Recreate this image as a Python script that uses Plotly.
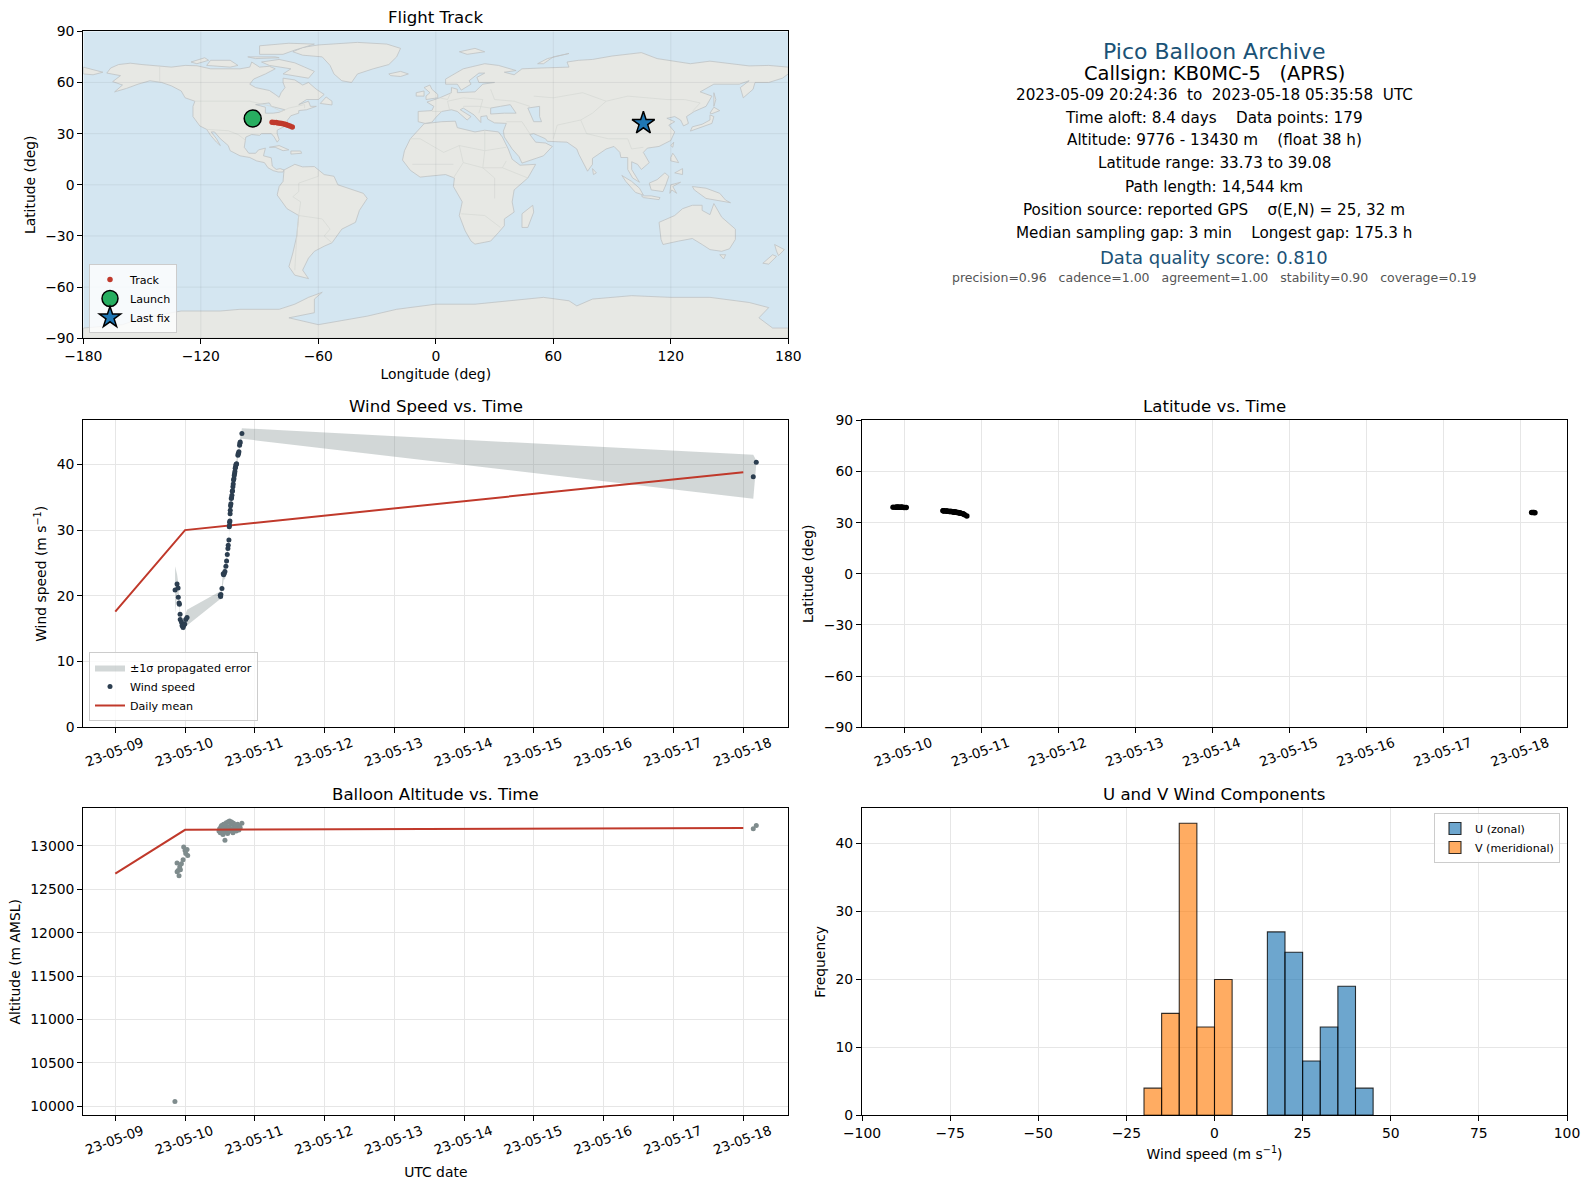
import plotly.graph_objects as go

# ===================== 1. flight data =====================
wind_times = [
    "2023-05-09 20:34", "2023-05-09 21:15", "2023-05-09 21:36", "2023-05-09 21:40", "2023-05-09 21:56",
    "2023-05-09 22:03", "2023-05-09 22:17", "2023-05-09 22:20", "2023-05-09 22:44", "2023-05-09 22:58",
    "2023-05-09 23:12", "2023-05-09 23:19", "2023-05-09 23:33", "2023-05-09 23:53", "2023-05-10 00:14",
    "2023-05-10 00:41",
    "2023-05-10 12:07", "2023-05-10 12:14", "2023-05-10 12:20", "2023-05-10 12:41", "2023-05-10 13:08",
    "2023-05-10 13:16", "2023-05-10 13:29", "2023-05-10 13:43", "2023-05-10 14:03", "2023-05-10 14:17",
    "2023-05-10 14:31", "2023-05-10 14:44", "2023-05-10 14:51", "2023-05-10 15:05", "2023-05-10 15:12",
    "2023-05-10 15:16", "2023-05-10 15:19", "2023-05-10 15:26", "2023-05-10 15:30", "2023-05-10 15:33",
    "2023-05-10 15:39", "2023-05-10 15:46", "2023-05-10 15:53", "2023-05-10 16:00", "2023-05-10 16:07",
    "2023-05-10 16:14", "2023-05-10 16:20", "2023-05-10 16:27", "2023-05-10 16:34", "2023-05-10 16:41",
    "2023-05-10 16:48", "2023-05-10 16:55", "2023-05-10 17:02", "2023-05-10 17:09", "2023-05-10 17:15",
    "2023-05-10 17:22", "2023-05-10 17:29", "2023-05-10 17:36", "2023-05-10 17:43", "2023-05-10 18:10",
    "2023-05-10 18:17", "2023-05-10 18:24", "2023-05-10 18:31", "2023-05-10 18:45", "2023-05-10 18:52",
    "2023-05-10 18:58", "2023-05-10 19:33",
    "2023-05-18 03:26", "2023-05-18 04:28",
]
wind_speed = [
    20.9, 21.8, 21.2, 19.8, 18.9, 18.7, 17.2, 16.4, 16.0, 15.5, 15.4, 15.2, 15.5, 15.7, 16.4, 16.7,
    20.1, 19.9, 20.2, 21.1, 23.35, 23.2, 23.4, 23.7, 24.5, 25.3, 26.3, 27.2, 27.7, 28.5, 30.5,
    30.7, 31.2, 31.4, 32.5, 33.0, 33.7, 34.0, 34.8, 34.9, 35.3, 35.9, 36.0, 36.6, 37.0, 37.6,
    37.8, 38.3, 38.6, 38.9, 39.4, 39.6, 39.9, 40.0, 40.1, 41.4, 41.6, 41.7, 41.9, 42.9, 43.2,
    43.4, 44.7,
    38.1, 40.3,
]
wind_err = [
    3.6, 1.5, 1.0, 0.8, 0.6, 0.6, 0.5, 0.6, 0.5, 0.6, 0.5, 0.5, 0.6, 0.7, 0.9, 1.2,
    0.6, 0.6, 0.5, 0.6, 1.4, 0.8, 0.8, 1.3, 0.7, 0.7, 0.7, 0.7, 0.7, 0.6, 0.6,
    0.6, 0.6, 0.6, 0.6, 0.6, 0.6, 0.6, 0.6, 0.6, 0.6, 0.6, 0.6, 0.6, 0.6, 0.6,
    0.6, 0.6, 0.6, 0.6, 0.6, 0.6, 0.6, 0.6, 0.6, 0.6, 0.6, 0.6, 0.6, 0.6, 0.7,
    0.7, 0.8,
    3.35, 0.3,
]

lat_times = [
    "2023-05-09 20:34", "2023-05-09 21:15", "2023-05-09 21:36", "2023-05-09 21:40", "2023-05-09 21:56",
    "2023-05-09 22:03", "2023-05-09 22:17", "2023-05-09 22:20", "2023-05-09 22:44", "2023-05-09 22:58",
    "2023-05-09 23:12", "2023-05-09 23:19", "2023-05-09 23:33", "2023-05-09 23:53", "2023-05-10 00:14",
    "2023-05-10 00:41",
    "2023-05-10 12:07", "2023-05-10 12:14", "2023-05-10 12:20", "2023-05-10 12:41", "2023-05-10 13:08",
    "2023-05-10 13:16", "2023-05-10 13:29", "2023-05-10 13:43", "2023-05-10 14:03", "2023-05-10 14:17",
    "2023-05-10 14:31", "2023-05-10 14:44", "2023-05-10 15:05", "2023-05-10 15:12", "2023-05-10 15:19",
    "2023-05-10 15:33", "2023-05-10 15:39", "2023-05-10 15:53", "2023-05-10 16:07", "2023-05-10 16:14",
    "2023-05-10 16:27", "2023-05-10 16:48", "2023-05-10 17:02", "2023-05-10 17:15", "2023-05-10 17:29",
    "2023-05-10 17:43", "2023-05-10 18:17", "2023-05-10 18:31", "2023-05-10 18:52", "2023-05-10 19:33",
    "2023-05-18 03:26", "2023-05-18 03:50", "2023-05-18 04:10", "2023-05-18 04:28",
]
latitudes = [
    39.08, 39.05, 39.05, 39.02, 39.0, 39.0, 38.98, 38.98, 38.98, 38.96, 38.95, 38.95, 38.95, 38.93, 38.92, 38.9,
    36.9, 36.95, 36.9, 36.85, 36.75, 36.75, 36.7, 36.7, 36.6, 36.6, 36.5, 36.5, 36.4, 36.4, 36.35,
    36.3, 36.3, 36.2, 36.1, 36.1, 36.0, 35.9, 35.8, 35.7, 35.6, 35.5, 35.2, 35.0, 34.6, 33.9,
    35.95, 35.9, 35.9, 35.85,
]

alt_times = [
    "2023-05-09 20:31", "2023-05-09 21:15", "2023-05-09 21:16", "2023-05-09 21:36", "2023-05-09 21:56",
    "2023-05-09 22:10", "2023-05-09 22:24", "2023-05-09 22:44", "2023-05-09 23:19", "2023-05-09 23:32",
    "2023-05-10 00:00", "2023-05-10 00:14", "2023-05-10 00:41", "2023-05-10 00:55",
    "2023-05-10 11:40", "2023-05-10 11:53", "2023-05-10 12:07", "2023-05-10 12:21", "2023-05-10 12:34",
    "2023-05-10 12:48", "2023-05-10 13:02", "2023-05-10 13:15", "2023-05-10 13:29", "2023-05-10 13:43",
    "2023-05-10 13:44", "2023-05-10 13:57", "2023-05-10 14:10", "2023-05-10 14:24", "2023-05-10 14:38",
    "2023-05-10 14:52", "2023-05-10 15:05", "2023-05-10 15:19", "2023-05-10 15:33", "2023-05-10 15:46",
    "2023-05-10 16:00", "2023-05-10 16:14", "2023-05-10 16:28", "2023-05-10 16:41", "2023-05-10 16:55",
    "2023-05-10 17:09", "2023-05-10 17:22", "2023-05-10 17:36", "2023-05-10 17:50", "2023-05-10 18:04",
    "2023-05-10 18:17", "2023-05-10 18:31", "2023-05-10 18:45", "2023-05-10 18:58", "2023-05-10 19:33",
    "2023-05-18 03:26", "2023-05-18 04:28",
]
altitudes = [
    10055, 12802, 12702, 12717, 12655, 12756, 12725, 12795, 12841, 12988, 12946, 12911, 12957, 12888,
    13171, 13198, 13151, 13221, 13236, 13182, 13132, 13248, 13209, 13066, 13159, 13229, 13267, 13190,
    13143, 13279, 13221, 13287, 13171, 13248, 13275, 13198, 13151, 13260, 13221, 13182, 13236, 13171,
    13209, 13248, 13198, 13182, 13221, 13209, 13260,
    13198, 13236,
]

mean_days = ["2023-05-09", "2023-05-10", "2023-05-18"]
mean_speed = [17.6, 30.0, 38.8]
mean_alt = [12680, 13185, 13205]

track_lon = [-83.6, -82.6, -81.5, -80.6, -79.5, -78.6, -77.5, -76.6, -75.6, -74.5, -73.3]
track_lat = [36.7, 36.6, 36.5, 36.3, 36.1, 36.0, 35.6, 35.3, 34.9, 34.5, 33.9]
launch_lon, launch_lat = [-93.5], [38.9]
last_lon, last_lat = [106.0], [36.1]

hist_centers = [-17.5, -12.5, -7.5, -2.5, 2.5, 17.5, 22.5, 27.5, 32.5, 37.5, 42.5]
u_counts = [0, 0, 0, 0, 0, 27, 24, 8, 13, 19, 4]
v_counts = [4, 15, 43, 13, 20, 0, 0, 0, 0, 0, 0]

date_ticks = ["2023-05-09", "2023-05-10", "2023-05-11", "2023-05-12", "2023-05-13",
              "2023-05-14", "2023-05-15", "2023-05-16", "2023-05-17", "2023-05-18"]
date_labels = ["23-05-09", "23-05-10", "23-05-11", "23-05-12", "23-05-13",
               "23-05-14", "23-05-15", "23-05-16", "23-05-17", "23-05-18"]
lon_ticks = [-180, -120, -60, 0, 60, 120, 180]
lat_ticks = [-90, -60, -30, 0, 30, 60, 90]

summary_lines = [
    ("Pico Balloon Archive", 22, "#1a5276"),
    ("Callsign: KB0MC-5   (APRS)", 19.4, "black"),
    ("2023-05-09 20:24:36  to  2023-05-18 05:35:58  UTC", 15.2, "black"),
    ("Time aloft: 8.4 days    Data points: 179", 15.2, "black"),
    ("Altitude: 9776 - 13430 m    (float 38 h)", 15.2, "black"),
    ("Latitude range: 33.73 to 39.08", 15.2, "black"),
    ("Path length: 14,544 km", 15.2, "black"),
    ("Position source: reported GPS    σ(E,N) = 25, 32 m", 15.2, "black"),
    ("Median sampling gap: 3 min    Longest gap: 175.3 h", 15.2, "black"),
    ("Data quality score: 0.810", 18, "#1a5276"),
    ("precision=0.96   cadence=1.00   agreement=1.00   stability=0.90   coverage=0.19", 12.5, "#555555"),
]
summary_y = [51, 73, 95, 118, 140, 163, 187, 210, 233, 257, 278]

# ===================== 2. rough world outline (lon, lat) =====================
land = {
    "north_america": [(-168, 65.5), (-166, 68.5), (-162, 70.5), (-156, 71.3), (-150, 70.5), (-141, 69.7), (-135, 69), (-128, 70), (-122, 69.8), (-115, 68), (-108, 68), (-100, 68), (-95, 69), (-94, 72), (-90, 69), (-85, 69.5), (-82, 68), (-87, 65), (-93, 62), (-95, 59), (-92, 57), (-85, 55.3), (-82, 53), (-80, 51.3), (-79, 54), (-77, 57), (-78, 60), (-78, 62.5), (-72, 61.5), (-68, 58.5), (-65, 60), (-61, 56), (-57, 53), (-60, 50), (-66, 50), (-70, 47), (-65, 49), (-64, 46), (-61, 46), (-66, 44), (-70, 43.5), (-70, 42), (-74, 40.5), (-76, 37.5), (-75.5, 35.3), (-78, 34), (-81, 32), (-81, 30), (-80, 26.5), (-81, 25), (-82.5, 28), (-84, 30), (-89, 30), (-90, 29), (-94, 29.5), (-97, 28), (-97.5, 25), (-97.8, 22), (-95.5, 18.5), (-92, 18.5), (-90.5, 20.5), (-87, 21.5), (-88, 17), (-84, 15.8), (-83.5, 11), (-81.5, 9), (-79.5, 9.5), (-77.5, 8.7), (-78, 7.5), (-80.5, 7.5), (-83, 8.3), (-85.7, 10), (-87.5, 13), (-91.5, 14), (-95, 16), (-100, 17), (-105, 20), (-106, 23), (-110, 27), (-113, 31), (-114.7, 31), (-112, 27), (-110, 23), (-112, 25), (-115, 29), (-117, 32.5), (-120.5, 34.5), (-124, 40), (-124, 46), (-123, 49), (-128, 51), (-130, 55), (-135, 58), (-140, 60), (-146, 61), (-152, 59), (-158, 56.5), (-164, 54.5), (-160, 58.5), (-165, 60.5), (-161, 64), (-168, 65.5)],
    "greenland": [(-73, 78), (-68, 80.5), (-60, 82), (-40, 83.5), (-25, 82.5), (-18, 80), (-20, 75), (-24, 70.5), (-32, 68), (-40, 65), (-43, 60), (-48, 61), (-52, 65), (-54, 70), (-58, 75), (-68, 76), (-73, 78)],
    "baffin": [(-80, 73.5), (-72, 71.5), (-67, 69), (-62, 66.5), (-65, 62.5), (-72, 64), (-78, 65), (-74, 68), (-85, 70), (-89, 72), (-80, 73.5)],
    "victoria": [(-117, 70), (-105, 69), (-101, 70), (-105, 73), (-115, 73), (-117, 70)],
    "banks": [(-125, 72), (-118, 74.5), (-116, 73), (-122, 71), (-125, 72)],
    "ellesmere": [(-90, 76.5), (-78, 76.5), (-72, 79), (-62, 82.5), (-75, 83), (-90, 81.5), (-90, 76.5)],
    "devon": [(-96, 75), (-82, 75), (-80, 74.5), (-92, 74), (-96, 75)],
    "newfoundland": [(-59, 47.7), (-53, 46.8), (-53, 49), (-56, 51.5), (-59, 47.7)],
    "cuba": [(-85, 22), (-80, 23), (-75, 20.5), (-78, 20), (-82, 22), (-85, 22)],
    "hispaniola": [(-74, 19.8), (-69, 19.8), (-68.5, 18.5), (-74, 18), (-74, 19.8)],
    "south_america": [(-77.5, 8.7), (-72, 12), (-68, 10.5), (-62, 10.7), (-57, 6), (-52, 5), (-50, 0), (-44, -2.5), (-37, -5), (-35, -8), (-39, -15), (-41, -22), (-48, -26), (-53, -34), (-57, -36), (-62, -39), (-65, -43), (-68, -50), (-65, -55), (-72, -53), (-75, -48), (-73, -40), (-71, -30), (-70, -18), (-76, -14), (-81, -6), (-80, -1), (-78, 2), (-77.5, 8.7)],
    "africa": [(-6, 35.8), (3, 37), (10, 37.3), (11, 33.5), (20, 31), (25, 32), (32, 31), (34, 28), (37, 21), (39, 15), (43, 11.5), (51, 12), (47, 4), (40, -3), (39, -10), (40, -16), (35, -20), (35, -24), (32, -28), (28, -33), (20, -34.8), (18, -33), (15, -27), (12, -18), (13.5, -10), (9, -1), (9.5, 4), (5, 6), (-4, 5), (-8, 4.5), (-13, 8.5), (-17, 14.5), (-16, 20), (-13, 27), (-9, 32), (-6, 35.8)],
    "eurasia": [(-9, 37), (-9, 43), (-2, 43.5), (-1, 46), (-4.5, 48.5), (2, 51), (8, 54), (8, 57), (11, 56), (11, 54), (20, 54.5), (24, 59), (30, 60), (22, 60), (21, 63), (25, 65.5), (22, 65.5), (17, 61), (18, 59), (13, 55.5), (11, 59), (5, 59), (5, 62), (14, 68), (25, 71), (32, 70), (41, 67), (35, 66), (40, 64.5), (44, 68), (54, 68.5), (68, 69), (67, 72), (73, 73), (80, 73.5), (90, 75.5), (105, 77.5), (113, 74), (130, 71), (140, 72.5), (160, 69.7), (170, 70), (180, 69), (180, 65), (177, 62.5), (170, 60), (163, 60), (162, 56), (157, 51), (155.5, 57), (160, 61), (155, 59), (142, 59), (135, 54.5), (141, 52), (138, 46), (132, 43), (128, 40), (129, 36), (126.5, 34.5), (125, 38), (122, 40), (118, 39), (122, 37), (119, 35), (122, 31), (120, 26), (114, 22.5), (108, 21.5), (106, 19), (109, 13), (105, 9), (103, 12), (100, 13.5), (100, 9), (104, 1.5), (100.5, 4), (98, 9), (98, 16), (94.5, 16), (94, 19), (91, 22.5), (87, 21), (80, 15.5), (80, 12), (77.5, 8), (73, 18), (72, 21), (67, 25), (57, 25.5), (56, 27), (50, 30), (48, 29.5), (51, 25), (56, 24.5), (59.5, 22.5), (55, 17), (44, 12.7), (42.5, 16.5), (39, 21), (35, 28), (34.5, 31.5), (36, 36), (30, 36.3), (26.5, 38.5), (26, 40.5), (23, 40), (23, 36.5), (19.5, 41), (14, 45), (12.5, 44), (18, 40), (16, 38), (11, 43), (8, 44), (3, 43), (0, 39.5), (-2, 36.7), (-5.5, 36), (-9, 37)],
    "chukotka": [(-180, 69), (-170, 66), (-175, 64.5), (-180, 65), (-180, 69)],
    "britain": [(-5, 50), (1, 51), (1, 53), (-2, 56), (-3, 58.5), (-6, 57), (-3, 54), (-5, 52), (-5, 50)],
    "ireland": [(-10, 52), (-6, 52), (-6, 55), (-10, 54), (-10, 52)],
    "iceland": [(-24, 65), (-18, 66.5), (-14, 65), (-18, 63.5), (-23, 64), (-24, 65)],
    "svalbard": [(12, 78), (20, 80), (25, 78), (16, 76.5), (12, 78)],
    "novaya_zemlya": [(52, 71), (57, 74), (68, 77), (60, 75), (55, 71), (52, 71)],
    "honshu": [(130, 31.5), (131, 34), (136, 35.5), (140, 38), (140, 41), (142, 40), (141, 36), (136, 34), (130, 31.5)],
    "hokkaido": [(140, 42), (142, 45.5), (145, 43.5), (141, 41.7), (140, 42)],
    "sakhalin": [(142, 46), (142, 54), (143, 50), (142, 46)],
    "taiwan": [(120, 23), (121.5, 25), (121, 22), (120, 23)],
    "luzon": [(120, 16), (121, 18.5), (122, 17), (124, 13), (120, 14), (120, 16)],
    "mindanao": [(122, 7), (126, 9.5), (126, 6), (122, 7)],
    "borneo": [(109, 1), (113, 3), (117, 7), (119, 5), (117.5, 0), (116, -4), (110, -3), (109, 1)],
    "sumatra": [(95, 5.5), (100, 2), (104, -2), (106, -6), (102, -4.5), (97, 2), (95, 5.5)],
    "java": [(105, -6.5), (110, -6.5), (114.5, -7.5), (114, -8.7), (106, -7.5), (105, -6.5)],
    "sulawesi": [(119.5, -5), (120, 0), (125, 1.5), (121, -1), (123, -5), (120.5, -3), (119.5, -5)],
    "new_guinea": [(131, -1), (138, -2), (145, -5), (148, -9), (150.5, -10.5), (143, -9), (138, -8), (132, -3), (131, -1)],
    "australia": [(114, -22), (122, -18), (126, -14), (131, -12), (136, -12), (136, -15), (140, -17.5), (142, -11), (146, -19), (153, -26), (153, -32), (150, -37.5), (146, -39), (140, -38), (136, -35), (131, -31.5), (124, -33), (116, -35), (115, -32), (114, -22)],
    "tasmania": [(145, -41), (148, -41), (147, -43.5), (145, -41)],
    "nz_north": [(173, -35), (178, -38), (175, -41.5), (174, -39), (173, -35)],
    "nz_south": [(172, -41), (174, -42), (170, -46.5), (167, -46), (172, -41)],
    "madagascar": [(49.5, -12), (50, -16), (47, -25), (44, -25), (44, -17), (49.5, -12)],
    "sri_lanka": [(80, 9.5), (82, 7), (80.5, 6), (80, 9.5)],
    "antarctica": [(-180, -90), (-180, -84), (-160, -82), (-150, -78), (-130, -74), (-110, -74), (-100, -73), (-80, -73), (-72, -70), (-65, -66), (-58, -63), (-62, -67), (-62, -75), (-75, -78), (-60, -82), (-45, -79), (-35, -77), (-20, -73), (0, -70), (20, -70), (45, -67), (55, -66), (68, -68), (72, -71), (80, -67), (100, -65), (120, -66), (140, -66), (160, -69), (170, -72), (165, -78), (172, -84), (180, -84), (180, -90), (-180, -90)],
}
inland_water = {
    "black_sea": [(28, 41.5), (28, 45), (33, 46), (38, 47), (41, 42), (35, 42), (28, 41.5)],
    "caspian": [(47, 45), (53, 46), (53, 40), (54, 37), (50, 37), (49, 40), (47, 45)],
    "great_lakes": [(-92, 47), (-85, 48), (-84, 46), (-80, 45), (-77, 44), (-80, 42.5), (-83, 42), (-87, 42), (-87, 45.5), (-92, 47)],
}
borders = [
    [(-141, 60), (-141, 69.7)],
    [(-123, 49), (-95, 49), (-84, 46), (-79, 43), (-75, 45), (-67, 47), (-67, 45)],
    [(-117, 32.5), (-106, 31.7), (-101, 29.5), (-97, 26)],
    [(-70, -18), (-58, -20), (-54, -26), (-57, -30), (-53, -34)],
    [(-70, -18), (-69, -10), (-73, -7), (-70, -4), (-70, 1), (-60, 5), (-60, 8)],
    [(-70, -18), (-71, -30), (-72, -50)],
    [(-13, 27), (-8, 27), (4, 19), (12, 23), (25, 20), (36, 22)],
    [(25, 32), (25, 20), (24, 10), (34, 10), (36, 14)],
    [(12, 23), (14, 13), (9, 4)], [(14, 13), (24, 10), (30, 4), (30, -8)],
    [(13, -17), (25, -18), (33, -25)], [(9, 12), (-12, 12)], [(34, 10), (47, 4)],
    [(28, 56), (30, 50), (40, 49), (48, 46)],
    [(50, 52), (60, 51), (75, 54), (87, 49), (98, 52), (118, 50), (127, 50), (135, 48), (131, 43)],
    [(87, 49), (80, 42), (74, 38), (62, 35), (60, 27)],
    [(74, 38), (77, 30), (88, 27), (98, 27), (100, 21), (106, 22)],
    [(48, 30), (44, 37), (36, 37)],
    [(8, 55), (6, 50), (2, 51)], [(3, 43), (-2, 43)], [(7, 44), (6, 49)],
    [(6, 49), (14, 51), (24, 50), (22, 42)], [(14, 46), (22, 46), (28, 45)],
]

# ===================== 3. layout helpers (pixels in the 1590x1189 page) =====================
W, H = 1590, 1189
COL_X = [(83.3, 788.3), (862, 1567)]
ROW_Y = [(31.3, 338.3), (420.3, 727.3), (808.3, 1115.3)]
GRID = "#e6e6e6"
TICK_FONT = dict(family="DejaVu Sans", size=13.9, color="black")
DATE_FONT = dict(family="DejaVu Sans", size=13.4, color="black")
LABEL_FONT = dict(family="DejaVu Sans", size=13.9, color="black")
LEGEND_FONT = dict(family="DejaVu Sans", size=11.1, color="black")
WIND_RANGE = ["2023-05-08 13:00", "2023-05-18 15:29"]
LAT_RANGE = ["2023-05-09 10:54", "2023-05-18 14:27"]


def px_x(px):
    return px / W


def px_y(px):
    return 1 - px / H


def panel(col, row):
    left, right = COL_X[col]
    top, bottom = ROW_Y[row]
    return [px_x(left), px_x(right)], [px_y(bottom), px_y(top)]


def style_axis(domain, anchor, title, standoff, **kw):
    d = dict(
        domain=domain, anchor=anchor, automargin=False, showline=True, mirror=True, linecolor="black",
        linewidth=1.1, ticks="outside", ticklen=5, tickwidth=1.1, tickcolor="black", tickfont=TICK_FONT,
        showgrid=True, gridcolor=GRID, gridwidth=1, zeroline=False,
    )
    if title:
        d["title"] = dict(text=title, font=LABEL_FONT, standoff=standoff)
    d.update(kw)
    return d


def date_axis(domain, anchor, first, rng, title=None):
    return style_axis(
        domain, anchor, title, 10, type="date", range=rng,
        tickmode="array", tickvals=date_ticks[first:], ticktext=date_labels[first:],
        tickangle=-20, ticklabelshift=27, ticklabelstandoff=-3, tickfont=DATE_FONT,
    )


fig = go.Figure()

# ===================== 4. flight track map =====================
for outline in land.values():
    fig.add_trace(go.Scatter(
        x=[p[0] for p in outline], y=[p[1] for p in outline], xaxis="x", yaxis="y",
        mode="lines", fill="toself", fillcolor="#e7e8e4", line=dict(color="#bfc3c4", width=0.8),
        showlegend=False, hoverinfo="skip",
    ))
for outline in inland_water.values():
    fig.add_trace(go.Scatter(
        x=[p[0] for p in outline], y=[p[1] for p in outline], xaxis="x", yaxis="y",
        mode="lines", fill="toself", fillcolor="#d4e6f1", line=dict(color="#bfc3c4", width=0.8),
        showlegend=False, hoverinfo="skip",
    ))
border_x, border_y = [], []
for seg in borders:
    border_x += [p[0] for p in seg] + [None]
    border_y += [p[1] for p in seg] + [None]
fig.add_trace(go.Scatter(x=border_x, y=border_y, xaxis="x", yaxis="y", mode="lines",
                         line=dict(color="#d6d8d4", width=0.7), showlegend=False, hoverinfo="skip"))

# grid on top of the land, same as the original
grid_x, grid_y = [], []
for t in lon_ticks[1:-1]:
    grid_x += [t, t, None]
    grid_y += [-90, 90, None]
for t in lat_ticks[1:-1]:
    grid_x += [-180, 180, None]
    grid_y += [t, t, None]
fig.add_trace(go.Scatter(x=grid_x, y=grid_y, xaxis="x", yaxis="y", mode="lines",
                         line=dict(color="rgba(120,130,135,0.16)", width=0.8),
                         showlegend=False, hoverinfo="skip"))

fig.add_trace(go.Scatter(x=track_lon, y=track_lat, xaxis="x", yaxis="y", mode="markers", name="Track",
                         marker=dict(color="#c0392b", size=5.5), legend="legend"))
fig.add_trace(go.Scatter(x=launch_lon, y=launch_lat, xaxis="x", yaxis="y", mode="markers", name="Launch",
                         marker=dict(color="#27ae60", size=17, line=dict(color="black", width=1.5)),
                         legend="legend"))
fig.add_trace(go.Scatter(x=last_lon, y=last_lat, xaxis="x", yaxis="y", mode="markers", name="Last fix",
                         marker=dict(color="#1f77b4", size=17, symbol="star", line=dict(color="black", width=1.5)),
                         legend="legend"))

# ===================== 5. wind speed =====================
upper = [s + e for s, e in zip(wind_speed, wind_err)]
lower = [s - e for s, e in zip(wind_speed, wind_err)]
fig.add_trace(go.Scatter(
    x=wind_times + wind_times[::-1], y=upper + lower[::-1], xaxis="x2", yaxis="y2",
    mode="lines", fill="toself", fillcolor="rgba(127,140,141,0.35)", line=dict(width=0),
    name="±1σ propagated error", legend="legend2", legendrank=1,
))
# red line drawn under the dots, legend order kept with legendrank
fig.add_trace(go.Scatter(x=mean_days, y=mean_speed, xaxis="x2", yaxis="y2", mode="lines", name="Daily mean",
                         line=dict(color="#c0392b", width=2), legend="legend2", legendrank=3))
fig.add_trace(go.Scatter(x=wind_times, y=wind_speed, xaxis="x2", yaxis="y2", mode="markers", name="Wind speed",
                         marker=dict(color="#2c3e50", size=5), legend="legend2", legendrank=2))

# ===================== 6. latitude =====================
fig.add_trace(go.Scatter(x=lat_times, y=latitudes, xaxis="x3", yaxis="y3", mode="markers",
                         marker=dict(color="black", size=5.5), showlegend=False))

# ===================== 7. altitude =====================
fig.add_trace(go.Scatter(x=alt_times, y=altitudes, xaxis="x4", yaxis="y4", mode="markers",
                         marker=dict(color="#7f8c8d", size=5), showlegend=False))
fig.add_trace(go.Scatter(x=mean_days, y=mean_alt, xaxis="x4", yaxis="y4", mode="lines",
                         line=dict(color="#c0392b", width=2), showlegend=False))

# ===================== 8. U / V histogram =====================
fig.add_trace(go.Bar(x=hist_centers, y=u_counts, width=5, xaxis="x5", yaxis="y5", name="U (zonal)",
                     marker=dict(color="rgba(31,119,180,0.65)", line=dict(color="rgba(0,0,0,0.8)", width=1.1)),
                     legend="legend3"))
fig.add_trace(go.Bar(x=hist_centers, y=v_counts, width=5, xaxis="x5", yaxis="y5", name="V (meridional)",
                     marker=dict(color="rgba(255,127,14,0.65)", line=dict(color="rgba(0,0,0,0.8)", width=1.1)),
                     legend="legend3"))

# ===================== 9. axes, legends, texts =====================
map_x, map_y = panel(0, 0)
wind_x, wind_y = panel(0, 1)
lat_x, lat_y = panel(1, 1)
alt_x, alt_y = panel(0, 2)
hist_x, hist_y = panel(1, 2)

legend_box = dict(font=LEGEND_FONT, bgcolor="rgba(255,255,255,0.8)", bordercolor="#cccccc", borderwidth=1,
                  xanchor="left", yanchor="bottom", tracegroupgap=0)

annotations = []
titles = [("Flight Track", 0, 0), ("Wind Speed vs. Time", 0, 1), ("Latitude vs. Time", 1, 1),
          ("Balloon Altitude vs. Time", 0, 2), ("U and V Wind Components", 1, 2)]
for text, col, row in titles:
    annotations.append(dict(
        text=text, x=px_x(sum(COL_X[col]) / 2), y=px_y(ROW_Y[row][0] - 2.5), xref="paper", yref="paper",
        xanchor="center", yanchor="bottom", showarrow=False,
        font=dict(family="DejaVu Sans", size=16.6, color="black"),
    ))
for (text, size, color), y in zip(summary_lines, summary_y):
    annotations.append(dict(
        text=text, x=px_x(1214), y=px_y(y), xref="paper", yref="paper",
        xanchor="center", yanchor="middle", showarrow=False,
        font=dict(family="DejaVu Sans", size=size, color=color),
    ))

fig.update_layout(
    width=W, height=H, margin=dict(l=0, r=0, t=0, b=0), autosize=False,
    paper_bgcolor="white", plot_bgcolor="white", barmode="overlay",
    font=dict(family="DejaVu Sans", color="black"),
    xaxis=style_axis(map_x, "y", "Longitude (deg)", 6, range=[-180, 180], tickmode="array",
                     tickvals=lon_ticks, showgrid=False),
    yaxis=style_axis(map_y, "x", "Latitude (deg)", 6, range=[-90, 90], tickmode="array",
                     tickvals=lat_ticks, showgrid=False),
    xaxis2=date_axis(wind_x, "y2", 0, WIND_RANGE),
    yaxis2=style_axis(wind_y, "x2", "Wind speed (m s<sup>−1</sup>)", 6, range=[0, 46.7],
                      tickmode="array", tickvals=[0, 10, 20, 30, 40]),
    xaxis3=date_axis(lat_x, "y3", 1, LAT_RANGE),
    yaxis3=style_axis(lat_y, "x3", "Latitude (deg)", 6, range=[-90, 90], tickmode="array",
                      tickvals=lat_ticks),
    xaxis4=date_axis(alt_x, "y4", 0, WIND_RANGE, title="UTC date"),
    yaxis4=style_axis(alt_y, "x4", "Altitude (m AMSL)", 6, range=[9895, 13433], tickmode="array",
                      tickvals=[10000, 10500, 11000, 11500, 12000, 12500, 13000], tickformat="d"),
    xaxis5=style_axis(hist_x, "y5", "Wind speed (m s<sup>−1</sup>)", 9, range=[-100, 100],
                      tickmode="array", tickvals=[-100, -75, -50, -25, 0, 25, 50, 75, 100]),
    yaxis5=style_axis(hist_y, "x5", "Frequency", 6, range=[0, 45.2], tickmode="array",
                      tickvals=[0, 10, 20, 30, 40]),
    legend=dict(x=px_x(89), y=px_y(333), **legend_box),
    legend2=dict(x=px_x(89), y=px_y(721), **legend_box),
    legend3=dict(x=px_x(1434), y=px_y(863), **legend_box),
    annotations=annotations,
)
# map background only on the first panel
fig.add_shape(type="rect", xref="x", yref="y", x0=-180, x1=180, y0=-90, y1=90, fillcolor="#d4e6f1",
              line=dict(width=0), layer="below")

fig.write_html("out.html", config=dict(displayModeBar=False), post_script="document.body.style.margin='0';")
